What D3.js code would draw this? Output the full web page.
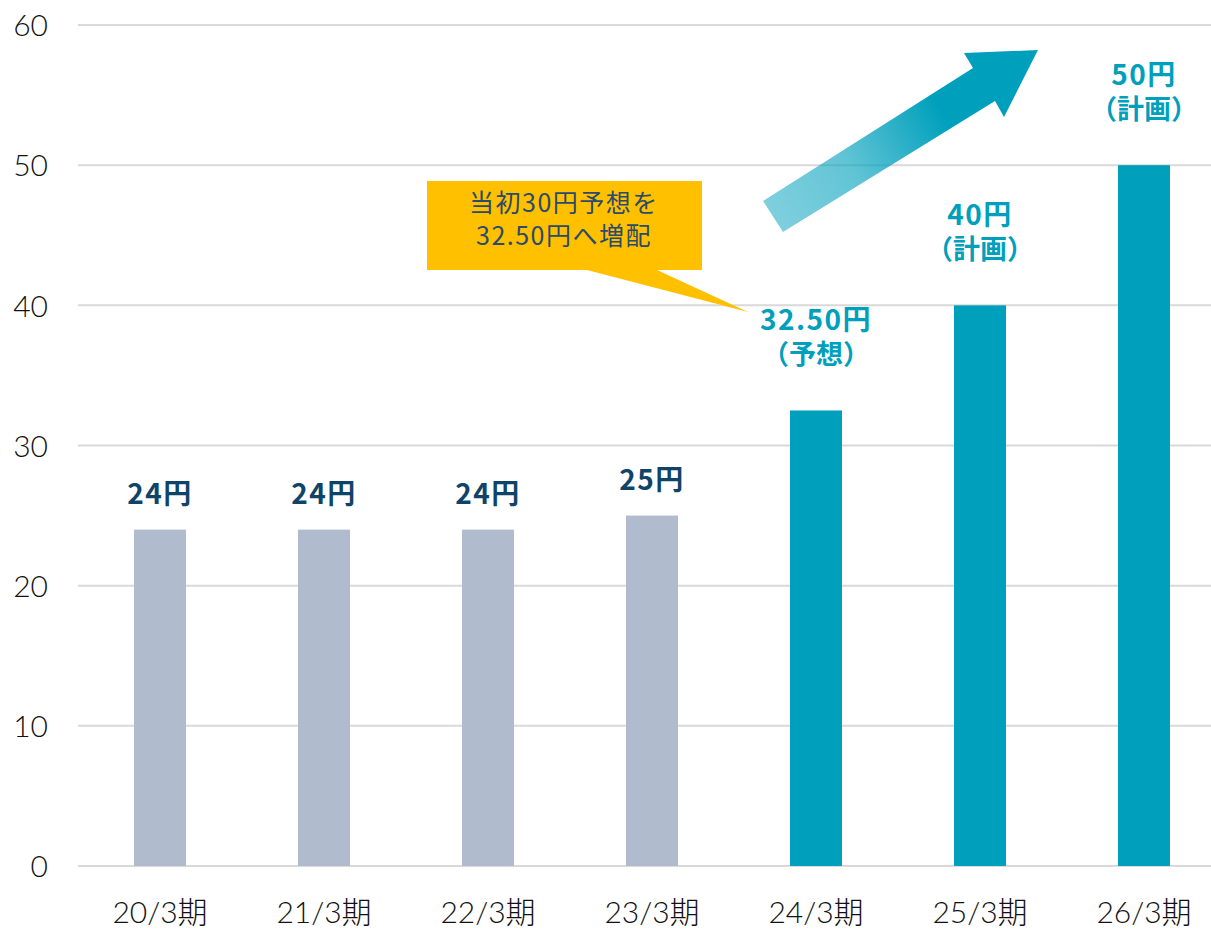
<!DOCTYPE html>
<html>
<head>
<meta charset="utf-8">
<script src="https://cdn.jsdelivr.net/npm/d3@7"></script>
<style>
  body { margin: 0; background: #fff; }
  svg { display: block; }
</style>
</head>
<body>
<div id="chart"></div>
<script>
// Datos
const periodos = ["20/3期", "21/3期", "22/3期", "23/3期", "24/3期", "25/3期", "26/3期"];
const dividendos = [24, 24, 24, 25, 32.5, 40, 50];
const etiquetas = ["24円", "24円", "24円", "25円", "32.50円", "40円", "50円"];
const notas = ["", "", "", "", "（予想）", "（計画）", "（計画）"];
const esFuturo = [false, false, false, false, true, true, true];
const ticksY = [0, 10, 20, 30, 40, 50, 60];
const textoNota = ["当初30円予想を", "32.50円へ増配"];

const ancho = 1211;
const alto = 931;
const margen = { superior: 25, derecho: -15, inferior: 65, izquierdo: 78 };

const colorGris = "#b0bccd";
const colorTeal = "#00a0bc";
const colorOscuro = "#0f4468";
const fuenteNum = "'Lato', 'DejaVu Sans', sans-serif";
const fuenteJp = "'Noto Sans CJK JP', sans-serif";

const svg = d3.select("#chart")
  .append("svg")
  .attr("width", ancho)
  .attr("height", alto);

const escalaX = d3.scaleBand()
  .domain(periodos)
  .range([margen.izquierdo, ancho - margen.derecho])
  .paddingInner(0.683)
  .paddingOuter(0.3415);

const escalaY = d3.scaleLinear()
  .domain([0, 60])
  .range([alto - margen.inferior, margen.superior]);

const centroX = i => escalaX(periodos[i]) + escalaX.bandwidth() / 2;

// Lineas de la grilla
svg.append("g")
  .selectAll("line")
  .data(ticksY)
  .enter()
  .append("line")
  .attr("x1", margen.izquierdo)
  .attr("x2", ancho)
  .attr("y1", d => escalaY(d))
  .attr("y2", d => escalaY(d))
  .attr("stroke", "#d9d9d9")
  .attr("stroke-width", 2);

// Eje Y
const ejeY = svg.append("g")
  .attr("transform", `translate(${margen.izquierdo},0)`)
  .call(d3.axisLeft(escalaY).tickValues(ticksY).tickSize(0).tickPadding(30));
ejeY.select(".domain").remove();
ejeY.selectAll("text")
  .attr("font-family", fuenteNum)
  .attr("font-weight", 300)
  .attr("font-size", 30)
  .attr("fill", "#111")
  .attr("dy", "0.36em");

// Eje X
const ejeX = svg.append("g")
  .attr("transform", `translate(0,${escalaY(0)})`)
  .call(d3.axisBottom(escalaX).tickSize(0).tickPadding(36));
ejeX.select(".domain").remove();
ejeX.selectAll("text")
  .attr("font-family", fuenteNum + ", " + fuenteJp)
  .attr("font-weight", 300)
  .attr("font-size", 30)
  .attr("fill", "#111");

// Flecha (decoracion)
const defs = svg.append("defs");
const grad = defs.append("linearGradient")
  .attr("id", "gradFlecha")
  .attr("gradientUnits", "userSpaceOnUse")
  .attr("x1", 770).attr("y1", 216)
  .attr("x2", 1000).attr("y2", 80);
grad.append("stop").attr("offset", "0%").attr("stop-color", "#00a0bc").attr("stop-opacity", 0.5);
grad.append("stop").attr("offset", "35%").attr("stop-color", "#00a0bc").attr("stop-opacity", 0.62);
grad.append("stop").attr("offset", "75%").attr("stop-color", "#00a0bc").attr("stop-opacity", 1);
grad.append("stop").attr("offset", "100%").attr("stop-color", "#00a0bc").attr("stop-opacity", 1);

const puntosFlecha = [[763, 201], [973, 68], [964, 53], [1038, 50], [1004, 117], [995, 101], [783, 232]];
svg.append("path")
  .attr("d", d3.line()(puntosFlecha) + "Z")
  .attr("fill", "url(#gradFlecha)");

// Barras
svg.selectAll(".barra")
  .data(dividendos)
  .enter()
  .append("rect")
  .attr("class", "barra")
  .attr("x", (d, i) => escalaX(periodos[i]))
  .attr("y", d => escalaY(d))
  .attr("width", escalaX.bandwidth())
  .attr("height", d => escalaY(0) - escalaY(d))
  .attr("fill", (d, i) => esFuturo[i] ? colorTeal : colorGris);

// Etiquetas de valor
svg.selectAll(".etiqueta")
  .data(dividendos)
  .enter()
  .append("text")
  .attr("class", "etiqueta")
  .attr("text-anchor", "middle")
  .attr("font-family", fuenteJp)
  .attr("font-weight", 700)
  .attr("font-size", 28)
  .attr("letter-spacing", 1.5)
  .attr("fill", (d, i) => esFuturo[i] ? colorTeal : colorOscuro)
  .attr("x", (d, i) => centroX(i))
  .attr("y", (d, i) => escalaY(d) - (esFuturo[i] ? 80 : 26))
  .text((d, i) => etiquetas[i]);

svg.selectAll(".nota")
  .data(dividendos)
  .enter()
  .filter((d, i) => notas[i] !== "")
  .append("text")
  .attr("class", "nota")
  .attr("text-anchor", "middle")
  .attr("font-family", fuenteJp)
  .attr("font-weight", 700)
  .attr("font-size", 27)
  .attr("fill", colorTeal)
  .attr("x", d => centroX(dividendos.indexOf(d)))
  .attr("y", d => escalaY(d) - 46)
  .text(d => notas[dividendos.indexOf(d)]);

// Globo de comentario
const globo = svg.append("g");
globo.append("path")
  .attr("d", "M427,181 L702,181 L702,270 L657,270 L748,312 L587,270 L427,270 Z")
  .attr("fill", "#ffc000");
globo.selectAll("text")
  .data(textoNota)
  .enter()
  .append("text")
  .attr("x", 564)
  .attr("y", (d, i) => 212 + i * 33)
  .attr("text-anchor", "middle")
  .attr("font-family", fuenteJp)
  .attr("font-size", 25)
  .attr("letter-spacing", 1.5)
  .attr("fill", "#2b4a6e")
  .text(d => d);
</script>
</body>
</html>
